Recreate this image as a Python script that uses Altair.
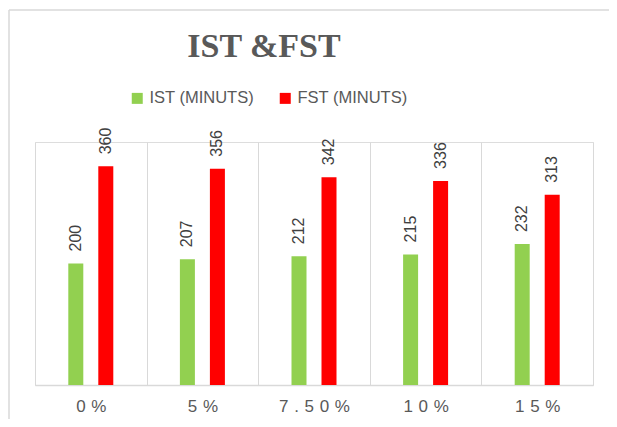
import altair as alt
import pandas as pd

categories = ["0%", "5%", "7.50%", "10%", "15%"]
series = ["IST (MINUTS)", "FST (MINUTS)"]
ist_values = [200, 207, 212, 215, 232]
fst_values = [360, 356, 342, 336, 313]
colors = ["#92D050", "#FF0000"]

rows = []
for c, a, b in zip(categories, ist_values, fst_values):
    rows.append({"category": c, "series": series[0], "value": a})
    rows.append({"category": c, "series": series[1], "value": b})
df = pd.DataFrame(rows)

W, H = 558, 243

x = alt.X(
    "category:N", sort=categories, title=None,
    scale=alt.Scale(paddingInner=0, paddingOuter=0),
    axis=alt.Axis(
        labelAngle=0, grid=True, tickBand="extent", gridColor="#D9D9D9", gridWidth=1,
        domainColor="#D9D9D9", domainWidth=1.5, ticks=False, labelPadding=13,
        labelFont="Liberation Sans", labelFontSize=17, labelColor="#595959",
        labelExpr="join(split(datum.label, ''), '\u2004')",
    ),
)
xo = alt.XOffset("series:N", sort=series,
                 scale=alt.Scale(range=[33.3, 78.3], paddingInner=0.5, paddingOuter=0))
y = alt.Y("value:Q", scale=alt.Scale(domain=[0, 400]), axis=None)
color = alt.Color(
    "series:N", sort=series,
    scale=alt.Scale(domain=series, range=colors),
    legend=alt.Legend(
        title=None, orient="none", legendX=94, legendY=-52, direction="horizontal",
        symbolType="square", symbolSize=121, symbolStrokeWidth=0, symbolOpacity=1,
        labelFont="Liberation Sans", labelFontSize=16.5, labelColor="#595959",
        labelOffset=4, columnPadding=23, padding=0,
    ),
)

bars = alt.Chart(df).mark_bar().encode(x=x, xOffset=xo, y=y, color=color)
labels = alt.Chart(df).mark_text(
    angle=270, align="left", baseline="middle", dx=12,
    font="Liberation Sans", fontSize=16, color="#404040",
).encode(x=x, xOffset=xo, y=y, text="value:Q")

frame = alt.Data(values=[{}])
left_border = alt.Chart(frame).mark_rule(color="#D9D9D9", strokeWidth=1.5).encode(
    x=alt.value(-26), y=alt.value(-132), y2=alt.value(277))
top_border = alt.Chart(frame).mark_rule(color="#D9D9D9", strokeWidth=1.5).encode(
    x=alt.value(-26), x2=alt.value(582), y=alt.value(-132))

chart = alt.layer(left_border, top_border, bars, labels).properties(
    width=W, height=H,
    title=alt.Title("IST &FST", font="Liberation Serif", fontSize=34, fontWeight="bold",
                    color="#595959", anchor="middle", dx=-50, offset=-82, baseline="alphabetic"),
    autosize=alt.AutoSizeParams(type="none"),
    padding={"left": 27, "top": 134, "right": 16, "bottom": 34},
).configure_view(stroke=None).configure(background="white")

chart.save("out.html", embed_options={"renderer": "svg", "actions": False})
